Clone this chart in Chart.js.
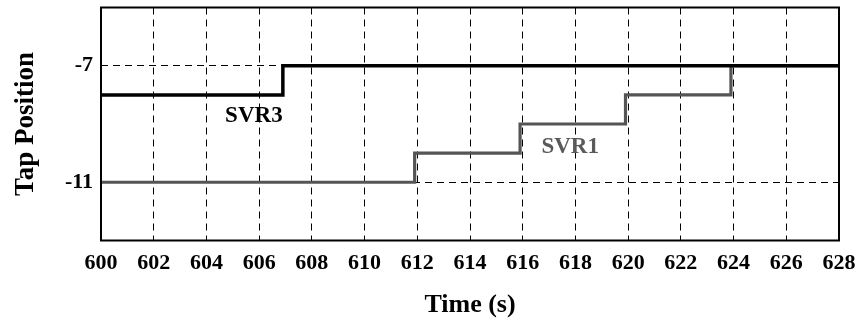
<!DOCTYPE html>
<html>
<head>
<meta charset="utf-8">
<title>Tap Position</title>
<script src="https://cdn.jsdelivr.net/npm/chart.js@4/dist/chart.umd.min.js"></script>
<style>
    html, body { margin: 0; padding: 0; background: #ffffff; }
    #wrap { width: 858px; height: 323px; }
</style>
</head>
<body>
<div id="wrap"><canvas id="tapChart" width="858" height="323"></canvas></div>
<script>
// Regulator tap changes over time
const svr3Times = [600, 606.9, 628];
const svr3Taps = [-8, -7, -7];
const svr1Times = [600, 611.9, 615.9, 619.9, 623.9, 628];
const svr1Taps = [-11, -10, -9, -8, -7, -7];

const xTickValues = [600, 602, 604, 606, 608, 610, 612, 614, 616, 618, 620, 622, 624, 626, 628];
const yTickValues = [-11, -7];

// where the series names sit, in data units
const seriesLabels = [
    { text: 'SVR3', x: 605.8, y: -8.72, color: '#000000' },
    { text: 'SVR1', x: 617.8, y: -9.8, color: '#5a5a5a' }
];

const toPoints = (xs, ys) => xs.map((x, i) => ({ x: x, y: ys[i] }));
const serif = 'Liberation Serif, Times New Roman, serif';

// box around the plot area plus the in-plot series names
const framePlugin = {
    id: 'frame',
    afterDatasetsDraw(chart) {
        const { ctx, chartArea, scales } = chart;
        ctx.save();
        ctx.strokeStyle = '#000';
        ctx.lineWidth = 2;
        ctx.strokeRect(chartArea.left, chartArea.top, chartArea.right - chartArea.left, chartArea.bottom - chartArea.top);
        ctx.font = 'bold 23px ' + serif;
        ctx.textAlign = 'center';
        ctx.textBaseline = 'middle';
        seriesLabels.forEach(l => {
            ctx.fillStyle = l.color;
            ctx.fillText(l.text, scales.x.getPixelForValue(l.x), scales.y.getPixelForValue(l.y));
        });
        ctx.restore();
    }
};

new Chart(document.getElementById('tapChart'), {
    type: 'line',
    data: {
        datasets: [{
            label: 'SVR3',
            data: toPoints(svr3Times, svr3Taps),
            borderColor: '#000000',
            borderWidth: 3.5,
            pointRadius: 0,
            stepped: 'before',
            fill: false
        }, {
            label: 'SVR1',
            data: toPoints(svr1Times, svr1Taps),
            borderColor: '#555555',
            borderWidth: 3.2,
            pointRadius: 0,
            stepped: 'before',
            fill: false
        }]
    },
    options: {
        responsive: false,
        animation: false,
        layout: { padding: { top: 7.5, right: 19, left: 0, bottom: 0 } },
        plugins: {
            legend: { display: false },
            tooltip: { enabled: false }
        },
        scales: {
            x: {
                type: 'linear',
                min: 600,
                max: 628,
                afterBuildTicks: s => { s.ticks = xTickValues.map(v => ({ value: v })); },
                afterFit: s => {
                    s.height = 82.5;
                    s.paddingLeft = 0;
                    s.paddingRight = 0;
                },
                ticks: {
                    color: '#000',
                    font: { family: serif, size: 22, weight: 'bold' },
                    padding: 10,
                    maxRotation: 0,
                    autoSkip: false
                },
                grid: { color: '#000', lineWidth: 1, drawTicks: false },
                border: { display: false, dash: [7, 5] },
                title: {
                    display: true,
                    text: 'Time (s)',
                    color: '#000',
                    font: { family: serif, size: 26, weight: 'bold' },
                    padding: { top: 0, bottom: 2 }
                }
            },
            y: {
                min: -13,
                max: -5,
                afterBuildTicks: s => { s.ticks = yTickValues.map(v => ({ value: v })); },
                afterFit: s => {
                    s.width = 101;
                    s.paddingTop = 0;
                    s.paddingBottom = 0;
                },
                ticks: {
                    color: '#000',
                    font: { family: serif, size: 22, weight: 'bold' },
                    padding: 8
                },
                grid: { color: '#000', lineWidth: 1, drawTicks: false },
                border: { display: false, dash: [7, 5] },
                title: {
                    display: true,
                    text: 'Tap Position',
                    color: '#000',
                    font: { family: serif, size: 27, weight: 'bold' },
                    padding: { top: 10, bottom: 0 }
                }
            }
        }
    },
    plugins: [framePlugin]
});
</script>
</body>
</html>
